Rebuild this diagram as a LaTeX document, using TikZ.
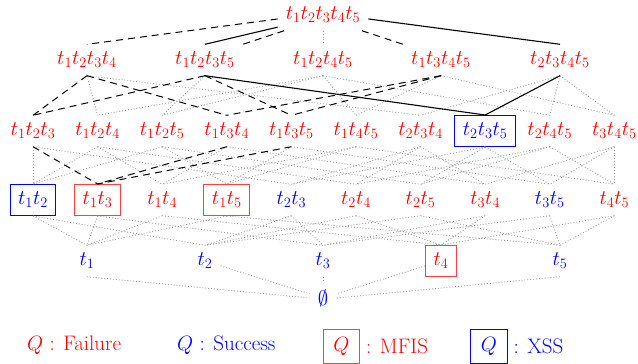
\documentclass[tikz,border=0pt]{standalone}
\begin{document}
\begin{tikzpicture}[x=1pt,y=-1pt,
  font=\rmfamily\fontsize{22}{26}\selectfont,
  lab/.style={inner xsep=8pt, inner ysep=0pt, minimum height=31pt},
  fail/.style={lab,text=red},
  succ/.style={lab,text=blue},
  mfis/.style={fail,draw=red!75,line width=1pt},
  xss/.style={succ,draw=blue,line width=1pt},
  legtext/.style={anchor=west, inner xsep=0pt, font=\rmfamily\fontsize{21}{25}\selectfont},
  dotedge/.style={draw=gray!75, dotted, line width=0.9pt},
  dashedge/.style={draw=black, dash pattern=on 7pt off 5pt, line width=1pt},
  solidedge/.style={draw=black, line width=1.1pt},
]
\useasboundingbox (0,0) rectangle (638,364);

% level 5
\node[fail] (n12345) at (323,15) {$t_1t_2t_3t_4t_5$};
% level 4
\node[fail] (n1234) at (87,60)  {$t_1t_2t_3t_4$};
\node[fail] (n1235) at (205,60) {$t_1t_2t_3t_5$};
\node[fail] (n1245) at (323,60) {$t_1t_2t_4t_5$};
\node[fail] (n1345) at (441,60) {$t_1t_3t_4t_5$};
\node[fail] (n2345) at (560,60) {$t_2t_3t_4t_5$};
% level 3
\node[fail] (n123) at (33,131)    {$t_1t_2t_3$};
\node[fail] (n124) at (97.6,131)  {$t_1t_2t_4$};
\node[fail] (n125) at (162.2,131) {$t_1t_2t_5$};
\node[fail] (n134) at (226.8,131) {$t_1t_3t_4$};
\node[fail] (n135) at (291.4,131) {$t_1t_3t_5$};
\node[fail] (n145) at (356,131)   {$t_1t_4t_5$};
\node[fail] (n234) at (420.6,131) {$t_2t_3t_4$};
\node[xss]  (n235) at (485.2,131) {$t_2t_3t_5$};
\node[fail] (n245) at (549.8,131) {$t_2t_4t_5$};
\node[fail] (n345) at (614.4,131) {$t_3t_4t_5$};
% level 2
\node[xss]  (n12) at (33,200)    {$t_1t_2$};
\node[mfis] (n13) at (97.6,200)  {$t_1t_3$};
\node[fail] (n14) at (162.2,200) {$t_1t_4$};
\node[mfis] (n15) at (226.8,200) {$t_1t_5$};
\node[succ] (n23) at (291.4,200) {$t_2t_3$};
\node[fail] (n24) at (356,200)   {$t_2t_4$};
\node[fail] (n25) at (420.6,200) {$t_2t_5$};
\node[fail] (n34) at (485.2,200) {$t_3t_4$};
\node[succ] (n35) at (549.8,200) {$t_3t_5$};
\node[fail] (n45) at (614.4,200) {$t_4t_5$};
% level 1
\node[succ] (n1) at (87,261)  {$t_1$};
\node[succ] (n2) at (205,261) {$t_2$};
\node[succ] (n3) at (323,261) {$t_3$};
\node[mfis] (n4) at (441,261) {$t_4$};
\node[succ] (n5) at (560,261) {$t_5$};
% level 0
\node[succ] (n0) at (323,298) {$\emptyset$};

% dotted Hasse edges
\draw[dotedge] (n12345.south) -- (n1245.north);
\foreach \u/\l in {1234/124,1234/234,1235/125,1245/124,1245/125,1245/145,1245/245,
  1345/145,1345/345,2345/234,2345/245,2345/345,
  123/12,123/23,124/12,124/14,124/24,125/12,125/15,125/25,134/14,134/34,
  135/15,135/35,145/14,145/15,145/45,234/23,234/24,234/34,235/23,235/25,235/35,
  245/24,245/25,245/45,345/34,345/35,345/45,
  12/1,12/2,13/1,13/3,14/1,14/4,15/1,15/5,23/2,23/3,24/2,24/4,25/2,25/5,
  34/3,34/4,35/3,35/5,45/4,45/5}
  \draw[dotedge] (n\u.south) -- (n\l.north);
\draw[dotedge] (n1.south) -- (n0.west);
\draw[dotedge] (n2) -- (n0);
\draw[dotedge] (n3.south) -- (n0.north);
\draw[dotedge] (n4) -- (n0);
\draw[dotedge] (n5.south) -- (n0.east);

% dashed path
\draw[dashedge] (n12345.185) -- (n1234.north);
\draw[dashedge] (n12345.202) -- (n1235.north east);
\draw[dashedge] (n12345.-22) -- (n1345.north west);
\foreach \u/\l in {1234/123,1234/134,1235/123,1235/135,1345/134,1345/135,
  123/13,134/13,135/13}
  \draw[dashedge] (n\u.south) -- (n\l.north);

% solid path
\draw[solidedge] (n12345.195) -- (n1235.north);
\draw[solidedge] (n12345.-5) -- (n2345.north);
\draw[solidedge] (n1235.south) -- (n235.north);
\draw[solidedge] (n2345.south) -- (n235.north);

% legend
\node[legtext, text=red] (lf) at (27,345) {$Q$ : Failure};
\node[legtext, text=blue] (ls) at (177,345) {$Q$ : Success};
\node[mfis, minimum height=34pt, inner xsep=10pt] (lm) at (341.5,346) {$Q$};
\node[legtext, text=red] (lmt) at ([xshift=6pt]lm.east) {: MFIS};
\node[xss, minimum height=34pt, inner xsep=10pt] (lx) at (489,346) {$Q$};
\node[legtext, text=blue] (lxt) at ([xshift=6pt]lx.east) {: XSS};
\end{tikzpicture}
\end{document}
